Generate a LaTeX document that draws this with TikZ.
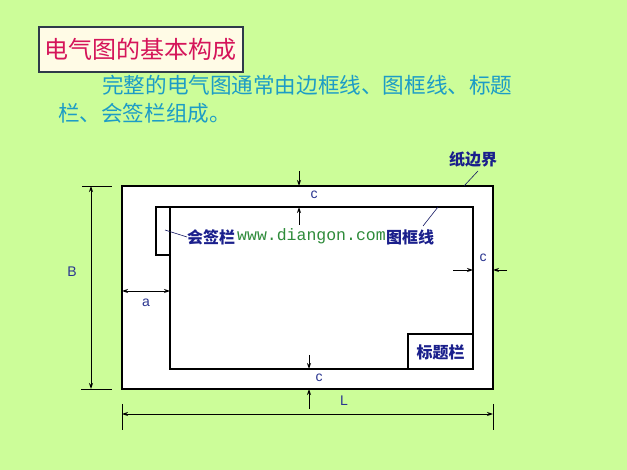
\documentclass[tikz,border=0pt]{standalone}
\usepackage{fontspec}
\setmainfont{Liberation Sans}
\setmonofont{Liberation Mono}
\newfontfamily\cjk{Noto Sans CJK SC}
\usetikzlibrary{arrows.meta}
\definecolor{bgc}{HTML}{CCFD99}
\definecolor{cream}{HTML}{FFFBE6}
\definecolor{tborder}{HTML}{2E3A4A}
\definecolor{tred}{HTML}{D5155A}
\definecolor{tblue}{HTML}{1C9CC6}
\definecolor{navy}{HTML}{1A1F8C}
\definecolor{dimc}{HTML}{2A3590}
\definecolor{wgreen}{HTML}{2E8B3A}
\begin{document}
\begin{tikzpicture}[x=1pt,y=-1pt,
  frame/.style={draw=black, line width=1.1pt, fill=white},
  thinbox/.style={draw=black, line width=1.1pt},
  dimline/.style={draw=black, line width=0.9pt},
  dimarrow/.style={dimline, -{Stealth[length=6pt,width=4pt]}},
  dimboth/.style={dimline, {Stealth[length=6pt,width=4pt]}-{Stealth[length=6pt,width=4pt]}},
  dimlab/.style={text=dimc, font=\fontsize{14}{14}\selectfont, inner sep=0},
  cnlab/.style={text=navy, font=\cjk\bfseries\fontsize{16}{16}\selectfont, inner sep=0},
  leader/.style={draw=navy!70!black, line width=0.6pt}]
\fill[bgc] (0,0) rectangle (627,470);
\useasboundingbox (0,0) rectangle (627,470);

% title
\node[draw=tborder, line width=2.2pt, fill=cream, minimum width=204pt, minimum height=45pt, inner sep=0] (title) at (141,49.5)
  {\cjk\fontsize{24}{24}\selectfont\color{tred}电气图的基本构成};
\node[anchor=west, inner sep=0, text=tblue, font=\cjk\fontsize{21.6}{21.6}\selectfont] (para1) at (102,85) {完整的电气图通常由边框线、图框线、标题};
\node[anchor=west, inner sep=0, text=tblue, font=\cjk\fontsize{21.6}{21.6}\selectfont] (para2) at (58,113) {栏、会签栏组成。};

% paper border and frame
\coordinate (pTL) at (122,186);
\coordinate (pBR) at (493,389);
\coordinate (fTL) at (170,207);
\coordinate (fBR) at (473,369);
\draw[frame] (pTL) rectangle (pBR);
\draw[thinbox] (fTL) rectangle (fBR);
% countersign block
\coordinate (hqTL) at (156,207);
\coordinate (hqBR) at (170,255);
\draw[thinbox] (hqTL) rectangle (hqBR);
% title block
\coordinate (tbTL) at (408,334);
\draw[thinbox] (tbTL) rectangle (fBR);
\node[cnlab] (tblab) at (440.5,352) {标题栏};

% labels with leaders
\node[cnlab, anchor=west] (hqlab) at (187,237) {会签栏};
\coordinate (hqpt) at (165,230);
\draw[leader] (hqpt) -- (hqlab.west);
\node[anchor=west, inner sep=0, text=wgreen, font=\ttfamily\fontsize{16.5}{16.5}\selectfont] (web) at (237,236) {www.diangon.com};
\node[cnlab, anchor=west] (tklab) at (386,237) {图框线};
\coordinate (tkpt) at (438,207);
\draw[leader] (423,226) -- (tkpt);
\node[cnlab, anchor=west] (zblab) at (449,159) {纸边界};
\coordinate (zbpt) at (464,186);
\draw[leader] (478,171) -- (zbpt);

% dimension B
\coordinate (bT) at (91,186);
\coordinate (bB) at (91,389);
\draw[dimline] (82,186) -- (112,186);
\draw[dimline] (81,389) -- (112,389);
\draw[dimboth] (bT) -- (bB);
\node[dimlab] (Blab) at (72,272) {B};

% dimension a
\coordinate (aL) at (122,291);
\coordinate (aR) at (170,291);
\draw[dimboth] (aL) -- (aR);
\node[dimlab] (alab) at (146,303) {a};

% top c
\coordinate (tc1) at (299,171);
\coordinate (tc2) at (299,186);
\coordinate (tc3) at (299,225);
\coordinate (tc4) at (299,207);
\draw[dimarrow] (tc1) -- (tc2);
\draw[dimarrow] (tc3) -- (tc4);
\node[dimlab] (tclab) at (314,195) {c};

% right c
\coordinate (rc1) at (453,270);
\coordinate (rc2) at (473,270);
\coordinate (rc3) at (507,270);
\coordinate (rc4) at (493,270);
\draw[dimarrow] (rc1) -- (rc2);
\draw[dimarrow] (rc3) -- (rc4);
\node[dimlab] (rclab) at (483,258) {c};

% bottom c
\coordinate (bc1) at (309,355);
\coordinate (bc2) at (309,369);
\coordinate (bc3) at (309,409);
\coordinate (bc4) at (309,389);
\draw[dimarrow] (bc1) -- (bc2);
\draw[dimarrow] (bc3) -- (bc4);
\node[dimlab] (bclab) at (319,378) {c};

% dimension L
\draw[dimline] (122,404) -- (122,430);
\draw[dimline] (493,404) -- (493,430);
\coordinate (lL) at (122,414);
\coordinate (lR) at (493,414);
\draw[dimboth] (lL) -- (lR);
\node[dimlab] (Llab) at (344,401) {L};
\end{tikzpicture}
\end{document}
